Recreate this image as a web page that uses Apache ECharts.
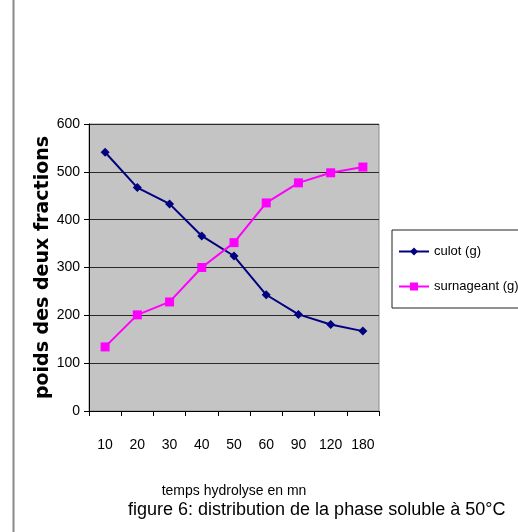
<!DOCTYPE html>
<html>
<head>
<meta charset="utf-8">
<script src="https://cdn.jsdelivr.net/npm/echarts@6/dist/echarts.min.js"></script>
<style>
  html, body { margin: 0; padding: 0; background: #fff; }
  #chart { width: 518px; height: 532px; }
</style>
</head>
<body>
<div id="chart"></div>
<script>
// temps d'hydrolyse (mn)
const categories = ['10', '20', '30', '40', '50', '60', '90', '120', '180'];
const culot = [541, 467, 433, 366, 324, 243, 202, 181, 167];
const surnageant = [134, 201, 228, 300, 352, 435, 477, 498, 510];
const yTicks = [0, 100, 200, 300, 400, 500, 600];

const narrow = '"Liberation Sans Narrow", "Arial Narrow", "Liberation Sans", Arial, sans-serif';

const chart = echarts.init(document.getElementById('chart'));
chart.setOption({
  backgroundColor: '#fff',
  animation: false,
  grid: {
    left: 89, right: 139, top: 124, bottom: 121,
    show: true,
    backgroundColor: '#c4c4c4',
    borderColor: '#8c8c8c',
    borderWidth: 1
  },
  legend: {
    orient: 'vertical',
    left: 392, top: 230,
    padding: [15, 2, 15, 6],
    itemGap: 22,
    itemWidth: 30, itemHeight: 10,
    borderColor: '#222', borderWidth: 1,
    backgroundColor: '#fff',
    textStyle: { fontFamily: narrow, fontSize: 13, color: '#000' },
    data: ['culot (g)', 'surnageant (g)']
  },
  xAxis: {
    type: 'category',
    data: categories,
    boundaryGap: true,
    name: 'temps hydrolyse en mn',
    nameLocation: 'middle',
    nameGap: 73,
    nameMoveOverlap: false,
    nameTextStyle: { fontFamily: narrow, fontSize: 14, color: '#000' },
    axisLine: { lineStyle: { color: '#000', width: 1 } },
    axisTick: { show: true, length: 5, lineStyle: { color: '#000' } },
    axisLabel: { fontFamily: narrow, fontSize: 14, color: '#000', margin: 27 }
  },
  yAxis: {
    type: 'value',
    min: yTicks[0], max: yTicks[yTicks.length - 1], interval: 100,
    name: 'poids des deux fractions',
    nameLocation: 'middle',
    nameGap: 36,
    nameMoveOverlap: false,
    nameTextStyle: { fontFamily: '"DejaVu Sans", Verdana, sans-serif', fontSize: 19, fontWeight: 'bold', color: '#000' },
    axisLine: { show: true, lineStyle: { color: '#000', width: 1 } },
    axisTick: { show: true, length: 5, lineStyle: { color: '#000' } },
    axisLabel: { fontFamily: narrow, fontSize: 14, color: '#000', margin: 9 },
    splitLine: { show: true, lineStyle: { color: '#2a2a2a', width: 1 } }
  },
  series: [
    {
      name: 'culot (g)',
      type: 'line',
      data: culot,
      symbol: 'diamond',
      symbolSize: 9,
      itemStyle: { color: '#000080' },
      lineStyle: { color: '#000080', width: 2 }
    },
    {
      name: 'surnageant (g)',
      type: 'line',
      data: surnageant,
      symbol: 'rect',
      symbolSize: 9,
      itemStyle: { color: '#ff00ff' },
      lineStyle: { color: '#ff00ff', width: 2 }
    }
  ],
  graphic: [
    {
      type: 'line',
      shape: { x1: 13.5, y1: 0, x2: 13.5, y2: 532 },
      style: { stroke: '#8a8a8a', lineWidth: 2 }
    },
    {
      type: 'text',
      left: 128, top: 501,
      style: {
        text: 'figure 6: distribution de la phase soluble à 50°C',
        fontFamily: narrow, fontSize: 18, fill: '#000'
      }
    }
  ]
});
</script>
</body>
</html>
